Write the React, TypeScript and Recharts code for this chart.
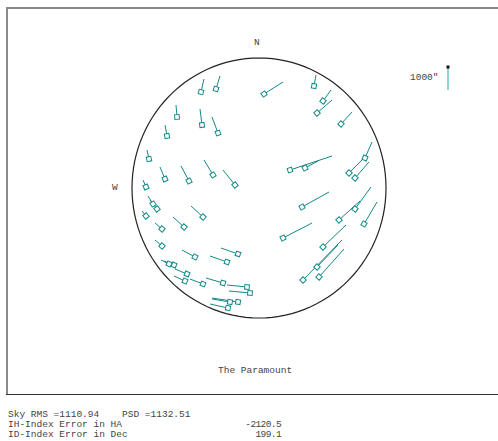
import { ScatterChart, Scatter, XAxis, YAxis } from 'recharts';

// star positions on the sky plot (plot units, origin = zenith, y up)
const starX = [
  -58, -43, 5, 55, 64, 58, 82, -82, -57, -41, -92, -110, -94, -70, -46, -24,
  31, 46, 106, 90, 96, -113, -106, -102, -113, -56, -75, -97, -97, -64, -21,
  -32, -90, -85, -72, -74, -56, -36, -12, -9, -21, -29, -31, 43, 24, 80, 96,
  105, 64, 58, 44, 60,
];
const starY = [
  96, 99, 94, 102, 87, 75, 64, 71, 63, 55, 52, 29, 9, 7, 13, 3, 18, 20, 30,
  15, 10, 1, -16, -21, -28, -29, -39, -41, -58, -69, -66, -74, -76, -77, -86,
  -93, -96, -95, -99, -105, -114, -114, -120, -19, -50, -32, -21, -36, -59,
  -79, -92, -89,
];
// pointing error vectors (same units)
const errX = [
  3, 4, 19, 2, 8, 15, 11, -1, -2, -6, -2, -2, -5, -8, -9, -12, 42, 13, 7, 16,
  14, -3, -5, -7, -4, -12, -11, -7, -7, -13, -17, -17, -8, -10, -12, -11, -13,
  -17, -20, -21, -26, -18, -18, 27, 29, 21, 16, 13, 23, 21, 39, 25,
];
const errY = [
  13, 13, 12, 11, 11, 13, 12, 12, 16, 16, 11, 9, 12, 15, 15, 15, 14, 7, 16,
  16, 16, 7, 8, 9, 5, 11, 10, 6, 6, 7, 6, 6, 4, 4, 5, 5, 5, 5, 2, 2, 4, 3, 4,
  15, 15, 19, 22, 22, 22, 22, 40, 28,
];

const horizonRX = 127;
const horizonRY = 130;

const summaryLabels = ['IH-Index Error in HA', 'ID-Index Error in Dec'];
const summaryValues = ['-2120.5', '199.1'];

const TEAL = '#138a87';
const MONO = '"Liberation Mono", "DejaVu Sans Mono", monospace';

const stars = starX.map((x, i) => ({ x, y: starY[i], dx: errX[i], dy: errY[i] }));

const horizon = Array.from({ length: 121 }, (_, i) => {
  const a = (i / 120) * 2 * Math.PI;
  return { x: horizonRX * Math.cos(a), y: horizonRY * Math.sin(a) };
});

const scaleBar = [
  { x: 189, y: 121 },
  { x: 189, y: 98 },
];

const Nothing = () => <g />;

const StarBox = (props: any) => {
  const { cx, cy, payload } = props;
  const ang = (Math.atan2(-payload.dy, payload.dx) * 180) / Math.PI;
  return (
    <rect
      x={cx - 2.3}
      y={cy - 2.3}
      width={4.6}
      height={4.6}
      fill="#fff"
      stroke={TEAL}
      strokeWidth={1}
      transform={`rotate(${ang} ${cx} ${cy})`}
    />
  );
};

const BarTip = (props: any) => {
  const { cx, cy, index } = props;
  if (index !== 0) return <g />;
  return <rect x={cx - 1.5} y={cy - 1.5} width={3} height={3} fill="#111" />;
};

const txt: React.CSSProperties = {
  position: 'absolute',
  fontFamily: MONO,
  fontSize: 9.5,
  color: '#444',
  whiteSpace: 'pre',
  lineHeight: '10px',
};

const rule = (left: number, top: number, width: number, height: number, bg: string) => (
  <div style={{ position: 'absolute', left, top, width, height, background: bg }} />
);

export default function App() {
  return (
    <div
      style={{
        position: 'absolute',
        left: 0,
        top: 0,
        width: 498,
        height: 441,
        background: '#fff',
        overflow: 'hidden',
      }}
    >
      {rule(6, 7, 492, 2, '#8a8a8a')}
      {rule(6, 7, 2, 388, '#8a8a8a')}
      {rule(6, 394, 492, 1, '#333')}
      <div style={{ position: 'absolute', left: 0, top: 0 }}>
        <ScatterChart width={498} height={441} margin={{ top: 0, right: 0, bottom: 0, left: 0 }}>
          <XAxis type="number" dataKey="x" domain={[-259, 239]} allowDataOverflow hide />
          <YAxis type="number" dataKey="y" domain={[-253, 188]} allowDataOverflow hide />
          <Scatter
            data={horizon}
            line={{ stroke: '#222', strokeWidth: 1.2 }}
            shape={Nothing}
            isAnimationActive={false}
          />
          {stars.map((s, i) => (
            <Scatter
              key={i}
              data={[
                { x: s.x, y: s.y },
                { x: s.x + s.dx, y: s.y + s.dy },
              ]}
              line={{ stroke: TEAL, strokeWidth: 1 }}
              shape={Nothing}
              isAnimationActive={false}
            />
          ))}
          <Scatter data={stars} shape={StarBox} isAnimationActive={false} />
          <Scatter
            data={scaleBar}
            line={{ stroke: '#6cc3c0', strokeWidth: 1.5 }}
            shape={BarTip}
            isAnimationActive={false}
          />
        </ScatterChart>
      </div>
      <div style={{ ...txt, left: 254, top: 38 }}>N</div>
      <div style={{ ...txt, left: 112, top: 183 }}>W</div>
      <div style={{ ...txt, left: 410, top: 73 }}>1000"</div>
      <div style={{ ...txt, left: 218, top: 366 }}>The Paramount</div>
      <div style={{ ...txt, left: 8, top: 410 }}>Sky RMS =1110.94    PSD =1132.51</div>
      {summaryLabels.map((l, i) => (
        <div key={l} style={{ ...txt, left: 8, top: 420 + i * 10 }}>
          {l}
        </div>
      ))}
      {summaryValues.map((v, i) => (
        <div
          key={v}
          style={{ ...txt, right: 498 - 281, top: 420 + i * 10, textAlign: 'right', letterSpacing: -0.6 }}
        >
          {v}
        </div>
      ))}
    </div>
  );
}
